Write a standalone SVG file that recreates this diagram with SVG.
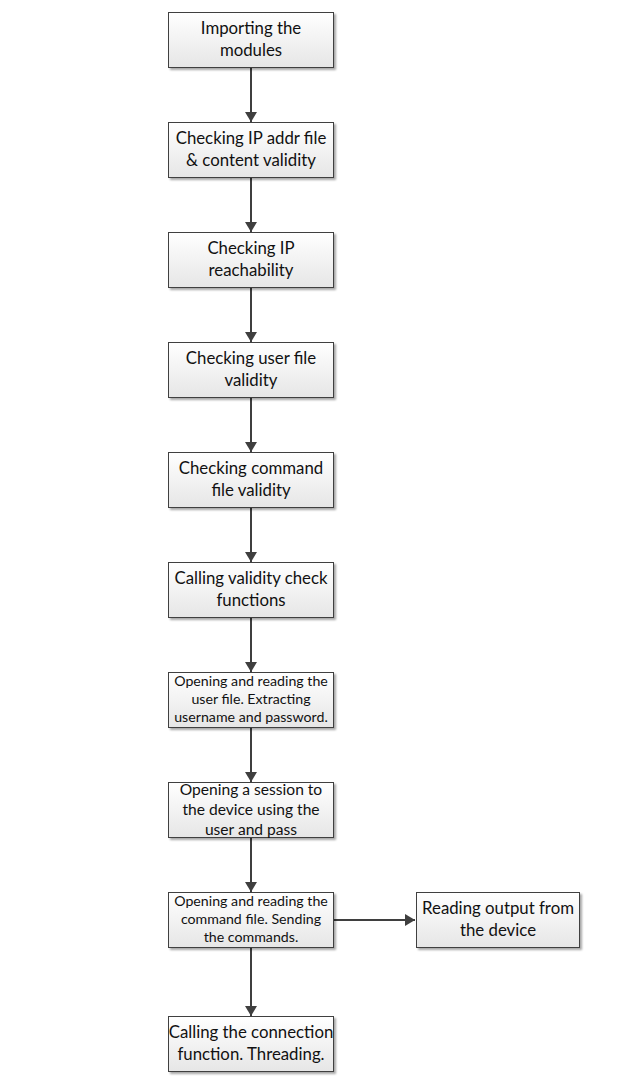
<svg xmlns="http://www.w3.org/2000/svg" width="633" height="1089" viewBox="0 0 633 1089">
  <defs>
    <linearGradient id="boxFill" x1="0" y1="0" x2="0" y2="1">
      <stop offset="0" stop-color="#ffffff"/>
      <stop offset="1" stop-color="#e6e6e6"/>
    </linearGradient>
    <marker id="arrow" viewBox="0 0 10 12" refX="10" refY="6" markerWidth="10" markerHeight="12" markerUnits="userSpaceOnUse" orient="auto">
      <path d="M0,0 L10,6 L0,12 Z" fill="#3f3f3f"/>
    </marker>
    <filter id="shadow" x="-10%" y="-10%" width="130%" height="140%">
      <feGaussianBlur in="SourceAlpha" stdDeviation="1"/>
      <feOffset dx="2" dy="2" result="b"/>
      <feComponentTransfer><feFuncA type="linear" slope="0.35"/></feComponentTransfer>
      <feMerge><feMergeNode/><feMergeNode in="SourceGraphic"/></feMerge>
    </filter>
  </defs>
  <style>
    .box { fill: url(#boxFill); stroke: #3f3f3f; stroke-width: 1; filter: url(#shadow); }
    .t { font-family: Lato, "Liberation Sans", sans-serif; font-size: 16.8px; fill: #111; text-anchor: middle; }
    .s { font-size: 14.2px; }
    .m { font-size: 15.6px; }
    .edge { stroke: #3f3f3f; stroke-width: 2; fill: none; marker-end: url(#arrow); }
  </style>

  <g id="connectors">
    <line class="edge" x1="251" y1="68" x2="251" y2="122"/>
    <line class="edge" x1="251" y1="178" x2="251" y2="232"/>
    <line class="edge" x1="251" y1="288" x2="251" y2="342"/>
    <line class="edge" x1="251" y1="398" x2="251" y2="452"/>
    <line class="edge" x1="251" y1="508" x2="251" y2="562"/>
    <line class="edge" x1="251" y1="618" x2="251" y2="672"/>
    <line class="edge" x1="251" y1="728" x2="251" y2="782"/>
    <line class="edge" x1="251" y1="838" x2="251" y2="892"/>
    <line class="edge" x1="251" y1="948" x2="251" y2="1016"/>
    <line class="edge" x1="334" y1="920" x2="415" y2="920"/>
  </g>

  <g id="n1">
    <rect class="box" x="168.5" y="12.5" width="165" height="55"/>
    <text class="t" x="251" y="34">Importing the</text>
    <text class="t" x="251" y="56">modules</text>
  </g>
  <g id="n2">
    <rect class="box" x="168.5" y="122.5" width="165" height="55"/>
    <text class="t" x="251" y="144">Checking IP addr file</text>
    <text class="t" x="251" y="166">&amp; content validity</text>
  </g>
  <g id="n3">
    <rect class="box" x="168.5" y="232.5" width="165" height="55"/>
    <text class="t" x="251" y="254">Checking IP</text>
    <text class="t" x="251" y="276">reachability</text>
  </g>
  <g id="n4">
    <rect class="box" x="168.5" y="342.5" width="165" height="55"/>
    <text class="t" x="251" y="364">Checking user file</text>
    <text class="t" x="251" y="386">validity</text>
  </g>
  <g id="n5">
    <rect class="box" x="168.5" y="452.5" width="165" height="55"/>
    <text class="t" x="251" y="474">Checking command</text>
    <text class="t" x="251" y="496">file validity</text>
  </g>
  <g id="n6">
    <rect class="box" x="168.5" y="562.5" width="165" height="55"/>
    <text class="t" x="251" y="584">Calling validity check</text>
    <text class="t" x="251" y="606">functions</text>
  </g>
  <g id="n7">
    <rect class="box" x="168.5" y="672.5" width="165" height="55"/>
    <text class="t s" x="251" y="686">Opening and reading the</text>
    <text class="t s" x="251" y="704">user file. Extracting</text>
    <text class="t s" x="251" y="722">username and password.</text>
  </g>
  <g id="n8">
    <rect class="box" x="168.5" y="782.5" width="165" height="55"/>
    <text class="t m" x="251" y="795">Opening a session to</text>
    <text class="t m" x="251" y="815">the device using the</text>
    <text class="t m" x="251" y="835">user and pass</text>
  </g>
  <g id="n9">
    <rect class="box" x="168.5" y="892.5" width="165" height="55"/>
    <text class="t s" x="251" y="906">Opening and reading the</text>
    <text class="t s" x="251" y="924">command file. Sending</text>
    <text class="t s" x="251" y="942">the commands.</text>
  </g>
  <g id="n10">
    <rect class="box" x="416.5" y="892.5" width="163" height="55"/>
    <text class="t" x="498" y="914">Reading output from</text>
    <text class="t" x="498" y="936">the device</text>
  </g>
  <g id="n11">
    <rect class="box" x="168.5" y="1016.5" width="165" height="55"/>
    <text class="t" x="251" y="1038">Calling the connection</text>
    <text class="t" x="251" y="1060">function. Threading.</text>
  </g>
</svg>
